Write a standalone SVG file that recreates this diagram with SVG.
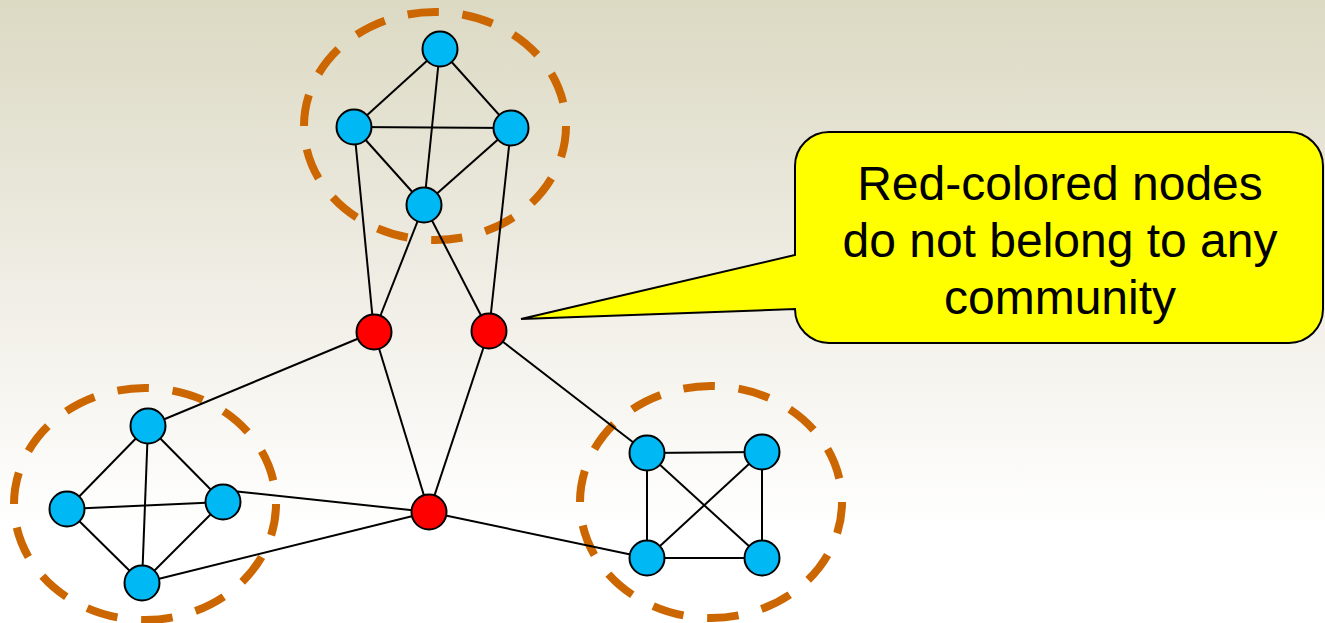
<svg xmlns="http://www.w3.org/2000/svg" width="1325" height="623" viewBox="0 0 1325 623">
  <defs>
    <linearGradient id="bg" x1="0" y1="0" x2="0" y2="1">
      <stop offset="0" stop-color="#dcd9c3"/>
      <stop offset="0.45" stop-color="#efede4"/>
      <stop offset="0.85" stop-color="#ffffff"/>
      <stop offset="1" stop-color="#ffffff"/>
    </linearGradient>
    <style>
      .edge { stroke: #000; stroke-width: 2; fill: none; }
      .comm { fill: none; stroke: #cc6600; stroke-width: 8; stroke-dasharray: 32 24; }
      .member { fill: #00b9f4; stroke: #000; stroke-width: 2; }
      .outsider { fill: #ff0000; stroke: #000; stroke-width: 2; }
      .callout { fill: #ffff00; stroke: #000; stroke-width: 2; stroke-linejoin: miter; }
      .note { font-family: "Liberation Sans", Arial, sans-serif; font-size: 48px; fill: #000; text-anchor: middle; }
    </style>
  </defs>

  <rect x="0" y="0" width="1325" height="623" fill="url(#bg)"/>

  <!-- community boundaries -->
  <g id="communities">
    <ellipse class="comm" cx="435" cy="126" rx="131" ry="114" pathLength="784"/>
    <ellipse class="comm" cx="145" cy="504" rx="131" ry="116" pathLength="784"/>
    <ellipse class="comm" cx="711" cy="502" rx="131" ry="116" pathLength="784"/>
  </g>

  <!-- connectors -->
  <g id="edges" class="edge">
    <!-- top community -->
    <line x1="440" y1="49" x2="354" y2="127"/>
    <line x1="440" y1="49" x2="511" y2="128"/>
    <line x1="440" y1="49" x2="424" y2="205"/>
    <line x1="354" y1="127" x2="511" y2="128"/>
    <line x1="354" y1="127" x2="424" y2="205"/>
    <line x1="511" y1="128" x2="424" y2="205"/>
    <!-- top community to red nodes -->
    <line x1="354" y1="127" x2="374" y2="332"/>
    <line x1="424" y1="205" x2="374" y2="332"/>
    <line x1="424" y1="205" x2="489" y2="331"/>
    <line x1="511" y1="128" x2="489" y2="331"/>
    <!-- red nodes -->
    <line x1="374" y1="332" x2="429" y2="512"/>
    <line x1="489" y1="331" x2="429" y2="512"/>
    <line x1="374" y1="332" x2="148" y2="426"/>
    <line x1="489" y1="331" x2="647" y2="453"/>
    <line x1="429" y1="512" x2="223" y2="490"/>
    <line x1="429" y1="512" x2="142" y2="583"/>
    <line x1="429" y1="512" x2="647" y2="558"/>
    <!-- left community -->
    <line x1="148" y1="426" x2="67" y2="509"/>
    <line x1="148" y1="426" x2="223" y2="502"/>
    <line x1="148" y1="426" x2="142" y2="583"/>
    <line x1="67" y1="509" x2="223" y2="502"/>
    <line x1="67" y1="509" x2="142" y2="583"/>
    <line x1="223" y1="502" x2="142" y2="583"/>
    <!-- right community -->
    <line x1="647" y1="453" x2="762" y2="452"/>
    <line x1="647" y1="453" x2="647" y2="558"/>
    <line x1="647" y1="453" x2="762" y2="558"/>
    <line x1="762" y1="452" x2="762" y2="558"/>
    <line x1="762" y1="452" x2="647" y2="558"/>
    <line x1="647" y1="558" x2="762" y2="558"/>
  </g>

  <!-- top community nodes -->
  <g id="top-community">
    <circle id="t1" class="member" cx="440" cy="49" r="17.5"/>
    <circle id="t2" class="member" cx="354" cy="127" r="17.5"/>
    <circle id="t3" class="member" cx="511" cy="128" r="17.5"/>
    <circle id="t4" class="member" cx="424" cy="205" r="17.5"/>
  </g>

  <!-- left community nodes -->
  <g id="left-community">
    <circle id="l1" class="member" cx="148" cy="426" r="17.5"/>
    <circle id="l2" class="member" cx="67" cy="509" r="17.5"/>
    <circle id="l3" class="member" cx="223" cy="502" r="17.5"/>
    <circle id="l4" class="member" cx="142" cy="583" r="17.5"/>
  </g>

  <!-- right community nodes -->
  <g id="right-community">
    <circle id="r1" class="member" cx="647" cy="453" r="17.5"/>
    <circle id="r2" class="member" cx="762" cy="452" r="17.5"/>
    <circle id="r3" class="member" cx="647" cy="558" r="17.5"/>
    <circle id="r4" class="member" cx="762" cy="558" r="17.5"/>
  </g>

  <!-- nodes outside every community -->
  <g id="unassigned">
    <circle id="u1" class="outsider" cx="374" cy="332" r="17.5"/>
    <circle id="u2" class="outsider" cx="489" cy="331" r="17.5"/>
    <circle id="u3" class="outsider" cx="429" cy="512" r="17.5"/>
  </g>

  <!-- callout -->
  <g id="callout">
    <path class="callout" d="M 829,132 H 1289 A 34 34 0 0 1 1323 166 V 309 A 34 34 0 0 1 1289 343 H 829 A 34 34 0 0 1 795 309 L 521 319 L 795 255 V 166 A 34 34 0 0 1 829 132 Z"/>
    <text class="note" x="1060" y="200">Red-colored nodes</text>
    <text class="note" x="1060" y="257">do not belong to any</text>
    <text class="note" x="1060" y="314">community</text>
  </g>
</svg>
